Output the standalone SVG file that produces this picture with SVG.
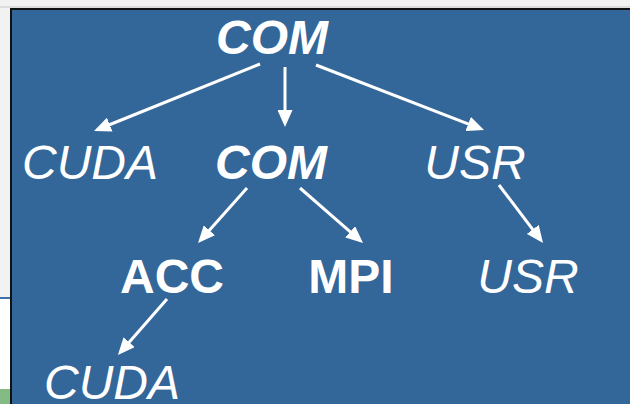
<svg xmlns="http://www.w3.org/2000/svg" width="630" height="404" viewBox="0 0 630 404">
<style>
.t{font-family:"Liberation Sans",Arial,sans-serif;font-size:48px;fill:#fff;text-anchor:middle}
.bi{font-weight:bold;font-style:italic}
.i{font-style:italic}
.b{font-weight:bold}
.c{stroke:#fff;stroke-width:3;fill:none;marker-end:url(#ah)}
</style>
<defs>
<marker id="ah" markerUnits="userSpaceOnUse" markerWidth="17" markerHeight="15" refX="13" refY="7.5" orient="auto" viewBox="0 0 17 15">
<path d="M0,0 L17,7.5 L0,15 z" fill="#fff"/>
</marker>
</defs>
<rect x="0" y="0" width="630" height="404" fill="#f2f2f2"/>
<rect x="0" y="6" width="630" height="2" fill="#dcdcdc"/>
<rect x="0" y="299" width="10" height="90" fill="#ffffff"/>
<rect x="0" y="297" width="10" height="2" fill="#3d6fa8"/>
<rect x="0" y="389" width="10" height="15" fill="#84bb84"/>
<rect x="10" y="8" width="620" height="396" fill="#111"/>
<rect x="12" y="10" width="618" height="394" fill="#336699"/>
<g id="connectors">
<line class="c" x1="260" y1="64" x2="97.7" y2="129.5"/>
<line class="c" x1="285" y1="67" x2="285" y2="123"/>
<line class="c" x1="316" y1="65" x2="480.3" y2="128.6"/>
<line class="c" x1="247" y1="188" x2="200.7" y2="240"/>
<line class="c" x1="300" y1="188" x2="360" y2="240.4"/>
<line class="c" x1="499" y1="185" x2="540.6" y2="239.8"/>
<line class="c" x1="167" y1="299" x2="120.6" y2="352"/>
</g>
<g id="n-com1"><text class="t bi" x="272" y="54">COM</text></g>
<g id="n-cuda1"><text class="t i" x="90" y="179">CUDA</text></g>
<g id="n-com2"><text class="t bi" x="271" y="179">COM</text></g>
<g id="n-usr1"><text class="t i" x="475" y="179">USR</text></g>
<g id="n-acc"><text class="t b" x="172" y="293">ACC</text></g>
<g id="n-mpi"><text class="t b" x="351" y="293">MPI</text></g>
<g id="n-usr2"><text class="t i" x="528" y="293">USR</text></g>
<g id="n-cuda2"><text class="t i" x="112" y="399">CUDA</text></g>
</svg>
